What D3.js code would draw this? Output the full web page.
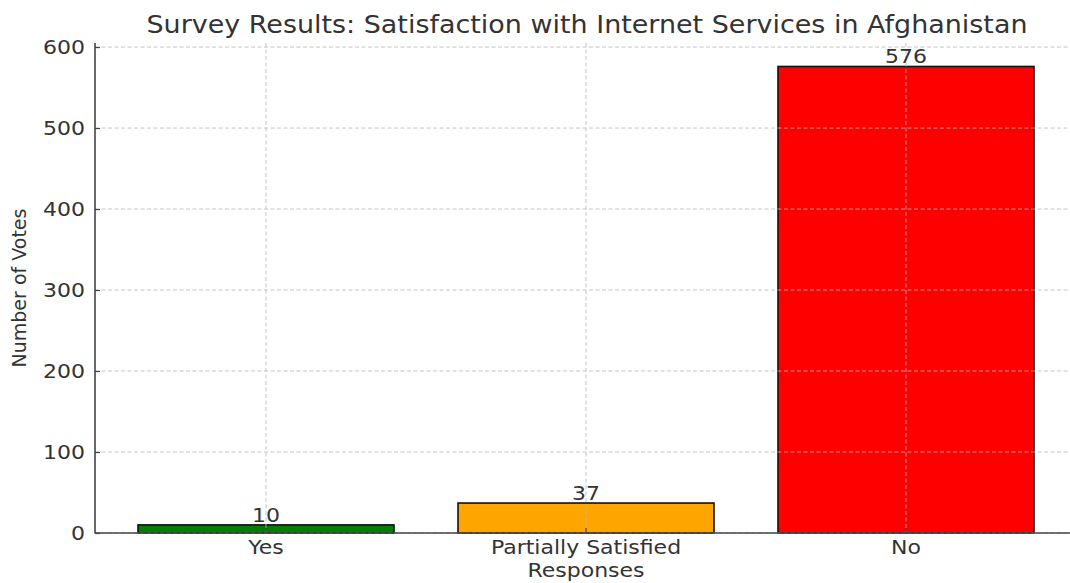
<!DOCTYPE html>
<html>
<head>
<meta charset="utf-8">
<script src="https://cdn.jsdelivr.net/npm/d3@7"></script>
<style>
  html, body { margin: 0; padding: 0; background: #fff; }
  svg { display: block; font-family: "DejaVu Sans", sans-serif; }
</style>
</head>
<body>
<div id="chart"></div>
<script>
// data
const categories = ["Yes", "Partially Satisfied", "No"];
const votes = [10, 37, 576];
const barColors = ["#008000", "#ffa500", "#ff0000"];
const yTicks = [0, 100, 200, 300, 400, 500, 600];

const title = "Survey Results: Satisfaction with Internet Services in Afghanistan";
const xLabel = "Responses";
const yLabel = "Number of Votes";

const W = 1070, H = 583;
const plotLeft = 95, plotBottom = 533, plotTop = 43;
const textColor = "#333";
const stretch = 1.1; // text looks a bit wider than tall in the original

var svg = d3.select("#chart")
  .append("svg")
  .attr("width", W)
  .attr("height", H);

// scales
var xScale = d3.scaleBand()
  .domain(categories)
  .range([74, 1098])
  .paddingInner(0.2)
  .paddingOuter(0.2);

var yScale = d3.scaleLinear()
  .domain([0, 605])
  .range([plotBottom, plotTop]);

const cx = (c) => xScale(c) + xScale.bandwidth() / 2;

// helper for text with a little horizontal stretch
function label(x, y, txt, size, anchor, rotate) {
  return svg.append("text")
    .attr("transform", `translate(${x},${y})` + (rotate ? ` rotate(${rotate})` : ` scale(${stretch},1)`))
    .attr("text-anchor", anchor)
    .attr("font-size", size)
    .attr("fill", textColor)
    .text(txt);
}

// bars
svg.selectAll("rect.bar")
  .data(votes)
  .enter()
  .append("rect")
  .attr("class", "bar")
  .attr("x", (d, i) => xScale(categories[i]))
  .attr("y", (d) => yScale(d))
  .attr("width", xScale.bandwidth())
  .attr("height", (d) => yScale(0) - yScale(d))
  .attr("fill", (d, i) => barColors[i])
  .attr("stroke", "#111")
  .attr("stroke-width", 1.6);

// grid on top of bars, like the original
var grid = svg.append("g")
  .attr("stroke", "#b8b8b8")
  .attr("stroke-width", 1)
  .attr("stroke-dasharray", "4,2.5")
  .attr("opacity", 0.8);

grid.selectAll("line.h")
  .data(yTicks)
  .enter()
  .append("line")
  .attr("x1", plotLeft)
  .attr("x2", W)
  .attr("y1", (d) => yScale(d))
  .attr("y2", (d) => yScale(d));

grid.selectAll("line.v")
  .data(categories)
  .enter()
  .append("line")
  .attr("x1", (d) => cx(d))
  .attr("x2", (d) => cx(d))
  .attr("y1", plotTop)
  .attr("y2", plotBottom);

// axes (inward ticks)
var yAxis = d3.axisRight(yScale)
  .tickValues(yTicks)
  .tickSize(5)
  .tickFormat("");

svg.append("g")
  .attr("transform", `translate(${plotLeft},0)`)
  .call(yAxis)
  .call(g => g.select(".domain").remove())
  .selectAll("line").attr("stroke", "#444").attr("stroke-width", 1.2);

var xAxis = d3.axisTop(xScale)
  .tickSize(5)
  .tickFormat("");

svg.append("g")
  .attr("transform", `translate(0,${plotBottom})`)
  .call(xAxis)
  .call(g => g.select(".domain").remove())
  .selectAll("line").attr("stroke", "#444").attr("stroke-width", 1.2);

// spines
svg.append("line")
  .attr("x1", plotLeft).attr("x2", plotLeft)
  .attr("y1", plotTop).attr("y2", plotBottom + 0.6)
  .attr("stroke", "#444").attr("stroke-width", 1.6);
svg.append("line")
  .attr("x1", plotLeft).attr("x2", W)
  .attr("y1", plotBottom).attr("y2", plotBottom)
  .attr("stroke", "#444").attr("stroke-width", 1.6);

// tick labels
yTicks.forEach((t) => {
  label(plotLeft - 10, yScale(t) + 7, String(t), 20, "end");
});
categories.forEach((c) => {
  label(cx(c), plotBottom + 21, c, 20, "middle");
});

// value labels
votes.forEach((v, i) => {
  label(cx(categories[i]), yScale(v) - 3, String(v), 20, "middle");
});

// titles
label(587, 33, title, 24.5, "middle");
label(cx(categories[1]), 577, xLabel, 20, "middle");
label(26, 288, yLabel, 19, "middle", -90);
</script>
</body>
</html>
